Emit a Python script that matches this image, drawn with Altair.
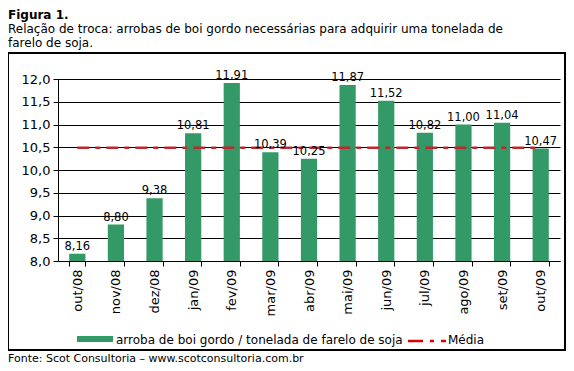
import altair as alt
import pandas as pd

# ---- data ----
meses = ["out/08", "nov/08", "dez/08", "jan/09", "fev/09", "mar/09", "abr/09",
         "mai/09", "jun/09", "jul/09", "ago/09", "set/09", "out/09"]
valores = [8.16, 8.80, 9.38, 10.81, 11.91, 10.39, 10.25, 11.87, 11.52, 10.82, 11.00, 11.04, 10.47]
media_valor = [10.49]
y_ticks = [8.0, 8.5, 9.0, 9.5, 10.0, 10.5, 11.0, 11.5, 12.0]
y_base = 8.0

titulo = "Figura 1."
subtitulo = ["Relação de troca: arrobas de boi gordo necessárias para adquirir uma tonelada de",
             "farelo de soja."]
fonte = "Fonte: Scot Consultoria – www.scotconsultoria.com.br"
legenda = ["arroba de boi gordo / tonelada de farelo de soja", "Média"]

df = pd.DataFrame({"mes": meses, "valor": valores, "media": media_valor * len(meses)})

W, H = 502, 182
FONT = "DejaVu Sans"
VERDE = "#339966"
VERMELHO = "#C0282D"

x_scale = alt.Scale(domain=meses, paddingInner=0.58, paddingOuter=0.29)
x_axis = alt.Axis(title=None, labelAngle=270, labelFontSize=13, labelPadding=3,
                  tickBand="extent", tickSize=5, tickColor="black",
                  domainColor="black", labelColor="black", labelFont=FONT)
y_scale = alt.Scale(domain=[8, 12], nice=False, zero=False)
y_axis = alt.Axis(title=None, values=y_ticks, labelOverlap=False,
                  labelExpr="replace(format(datum.value, '.1f'), '.', ',')",
                  grid=True, gridColor="black", gridOpacity=1, gridWidth=1,
                  tickSize=5, tickColor="black", domainColor="black",
                  labelFontSize=13, labelPadding=3, labelColor="black",
                  labelFont=FONT)

X = alt.X("mes:N", scale=x_scale, axis=x_axis)

base = alt.Chart(df)
bars = base.mark_bar(color=VERDE).encode(
    x=X, y=alt.Y("valor:Q", scale=y_scale, axis=y_axis), y2=alt.datum(y_base))
labels = base.mark_text(fontSize=11.5, font=FONT, dy=-4, baseline="alphabetic", color="black").encode(
    x=X,
    y=alt.Y("valor:Q", scale=y_scale, axis=y_axis),
    text=alt.Text("valor_txt:N"),
).transform_calculate(valor_txt="replace(format(datum.valor, '.2f'), '.', ',')")
linha = base.mark_line(color=VERMELHO, strokeWidth=2.5, strokeDash=[12, 6, 5, 6]).encode(
    x=X,
    y=alt.Y("media:Q", scale=y_scale, axis=y_axis),
)

one = alt.Data(values=[{"k": 1}])

def txt(s, x, y, size=12, weight="normal", align="left"):
    return alt.Chart(one).mark_text(font=FONT, fontSize=size, fontWeight=weight, align=align,
                                    baseline="alphabetic", color="black").encode(
        x=alt.value(x), y=alt.value(y), text=alt.value(s))

caixa = alt.Chart(one).mark_rect(fillOpacity=0, stroke="black", strokeWidth=2).encode(
    x=alt.value(-50), x2=alt.value(507), y=alt.value(-26), y2=alt.value(271))
leg_rect = alt.Chart(one).mark_rect(color=VERDE).encode(
    x=alt.value(19), x2=alt.value(55), y=alt.value(257), y2=alt.value(263))
leg_line = alt.Chart(one).mark_rule(color="#E00000", strokeWidth=2.5, strokeDash=[15, 7, 4, 7]).encode(
    x=alt.value(350), x2=alt.value(388), y=alt.value(262))

chart = alt.layer(
    caixa, bars, linha, labels,
    txt(titulo, -50, -60, 12, "bold"),
    txt(subtitulo[0], -50, -46, 12),
    txt(subtitulo[1], -50, -32, 12),
    leg_rect,
    txt(legenda[0], 58, 265, 12),
    leg_line,
    txt(legenda[1], 390, 265, 12),
    txt(fonte, -50, 283, 11),
).properties(
    width=W, height=H,
    autosize=alt.AutoSizeParams(type="none"),
    padding={"left": 50, "top": 71, "right": 6, "bottom": 105},
    background="white",
).configure_view(strokeWidth=0)

chart.save("out.html", embed_options={"renderer": "svg", "actions": False})
